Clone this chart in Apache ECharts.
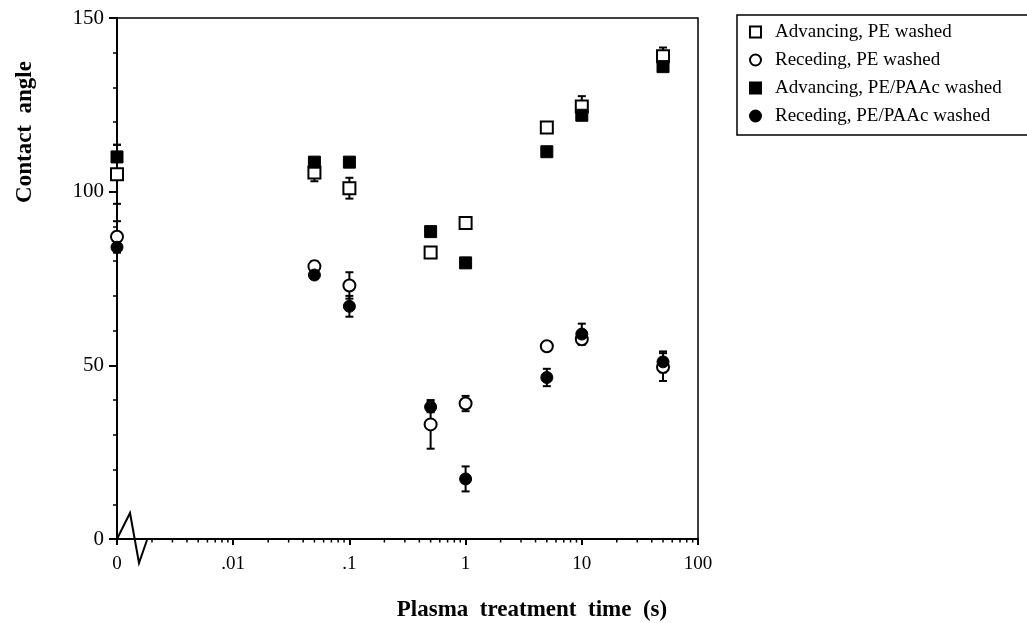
<!DOCTYPE html>
<html>
<head>
<meta charset="utf-8">
<script src="https://cdn.jsdelivr.net/npm/echarts@6/dist/echarts.min.js"></script>
<style>
  html, body { margin: 0; padding: 0; background: #fff; }
  #chart { width: 1027px; height: 623px; }
</style>
</head>
<body>
<div id="chart"></div>
<script>
// treatment times (s); 0 sits at the left end of the broken log axis
const times = [0, 0.05, 0.1, 0.5, 1, 5, 10, 50]
const ZERO_AT = 0.001

const advPE = [105, 105.5, 101, 82.5, 91, 118.5, 124.5, 139]
const advPEErr = [8.5, 2.5, 3, 0.5, 0.5, 0.5, 3, 2.5]
const recPE = [87, 78.5, 73, 33, 39, 55.5, 57.5, 49.5]
const recPEErr = [4.5, 1.5, 3.8, 7, 2.2, 0.5, 1.5, 4]
const advPAAc = [110, 108.5, 108.5, 88.5, 79.5, 111.5, 122, 136]
const advPAAcErr = [3.5, 0.5, 0.5, 0.5, 0.5, 0.5, 1, 1]
const recPAAc = [84, 76, 67, 38, 17.3, 46.5, 59, 51]
const recPAAcErr = [1.5, 0.8, 3, 1.5, 3.6, 2.5, 3, 3]

const xTickLabels = ['0', '.01', '.1', '1', '10', '100']
const seriesNames = [
  'Advancing, PE washed',
  'Receding, PE washed',
  'Advancing, PE/PAAc washed',
  'Receding, PE/PAAc washed'
]

const FONT = 'Liberation Serif'
const chart = echarts.init(document.getElementById('chart'))

const xOf = t => (t === 0 ? ZERO_AT : t)
const pts = vals => vals.map((v, i) => [xOf(times[i]), v])
const errPts = (vals, errs) => vals.map((v, i) => [xOf(times[i]), v, errs[i]])

// log minor ticks 2..9 in every decade
const minorTicks = []
for (let e = -3; e < 2; e++) {
  for (let k = 2; k <= 9; k++) minorTicks.push([k * Math.pow(10, e), 0])
}

const errorSeries = (vals, errs) => ({
  type: 'custom',
  silent: true,
  z: 1,
  data: errPts(vals, errs),
  renderItem (params, api) {
    const x = api.value(0), y = api.value(1), e = api.value(2)
    const top = api.coord([x, y + e])
    const bot = api.coord([x, y - e])
    const style = { stroke: '#000', lineWidth: 2 }
    return {
      type: 'group',
      children: [
        { type: 'line', shape: { x1: top[0], y1: top[1], x2: bot[0], y2: bot[1] }, style },
        { type: 'line', shape: { x1: top[0] - 4, y1: top[1], x2: top[0] + 4, y2: top[1] }, style },
        { type: 'line', shape: { x1: bot[0] - 4, y1: bot[1], x2: bot[0] + 4, y2: bot[1] }, style }
      ]
    }
  }
})

const openStyle = { color: '#fff', borderColor: '#000', borderWidth: 2, opacity: 1 }
const fillStyle = { color: '#000', borderColor: '#000', borderWidth: 1, opacity: 1 }

const scatter = (name, vals, symbol, style) => ({
  name,
  type: 'scatter',
  clip: false,
  z: 3,
  symbol,
  symbolSize: 12,
  itemStyle: style,
  data: pts(vals)
})

const option = {
  animation: false,
  textStyle: { fontFamily: FONT },
  grid: {
    left: 117, top: 18, right: 329, bottom: 84,
    show: true, borderColor: '#000', borderWidth: 1.5
  },
  legend: {
    orient: 'vertical',
    left: 737,
    top: 15,
    padding: [7, 60, 9, 12],
    itemWidth: 11,
    itemHeight: 11,
    itemGap: 8,
    borderColor: '#000',
    borderWidth: 1.5,
    textStyle: { fontFamily: FONT, fontSize: 19, color: '#000', lineHeight: 20, padding: [0, 0, 0, 9] },
    data: seriesNames
  },
  xAxis: {
    type: 'log',
    logBase: 10,
    min: ZERO_AT,
    max: 100,
    axisLine: { lineStyle: { color: '#000', width: 2 } },
    axisTick: { show: true, length: 6, lineStyle: { color: '#000', width: 2 } },
    splitLine: { show: false },
    axisLabel: {
      color: '#000', fontSize: 19, fontFamily: FONT, margin: 16,
      formatter: v => xTickLabels[Math.round(Math.log10(v)) + 3]
    }
  },
  yAxis: {
    type: 'value',
    min: 0,
    max: 150,
    interval: 50,
    axisLine: { show: true, lineStyle: { color: '#000', width: 2 } },
    axisTick: { show: true, length: 8, lineStyle: { color: '#000', width: 2 } },
    minorTick: { show: true, splitNumber: 5, length: 4, lineStyle: { color: '#000', width: 1.5 } },
    splitLine: { show: false },
    axisLabel: { color: '#000', fontSize: 21, fontFamily: FONT, margin: 13 }
  },
  graphic: [
    {
      type: 'text', x: 25, y: 132, rotation: Math.PI / 2,
      style: {
        text: 'Contact  angle', fill: '#000', font: 'bold 23px "Liberation Serif"',
        align: 'center', verticalAlign: 'middle'
      }
    },
    {
      type: 'text', x: 532, y: 610,
      style: {
        text: 'Plasma  treatment  time  (s)', fill: '#000', font: 'bold 23px "Liberation Serif"',
        align: 'center', verticalAlign: 'middle'
      }
    }
  ],
  series: [
    // minor ticks of the log axis
    {
      type: 'custom',
      silent: true,
      data: minorTicks,
      renderItem (params, api) {
        const p = api.coord([api.value(0), 0])
        return {
          type: 'line',
          shape: { x1: p[0], y1: p[1], x2: p[0], y2: p[1] + 3.5 },
          style: { stroke: '#000', lineWidth: 1.5 }
        }
      }
    },
    // axis break mark at 0
    {
      type: 'custom',
      silent: true,
      data: [[ZERO_AT, 0]],
      renderItem (params, api) {
        const p = api.coord([api.value(0), api.value(1)])
        return {
          type: 'polyline',
          shape: { points: [[p[0], p[1]], [p[0] + 13, p[1] - 26], [p[0] + 22, p[1] + 24], [p[0] + 30, p[1] + 1]] },
          style: { stroke: '#000', lineWidth: 2, fill: null }
        }
      }
    },
    errorSeries(advPE, advPEErr),
    errorSeries(recPE, recPEErr),
    errorSeries(advPAAc, advPAAcErr),
    errorSeries(recPAAc, recPAAcErr),
    scatter(seriesNames[0], advPE, 'rect', openStyle),
    scatter(seriesNames[1], recPE, 'circle', openStyle),
    scatter(seriesNames[2], advPAAc, 'rect', fillStyle),
    scatter(seriesNames[3], recPAAc, 'circle', fillStyle)
  ]
}

chart.setOption(option)
</script>
</body>
</html>
